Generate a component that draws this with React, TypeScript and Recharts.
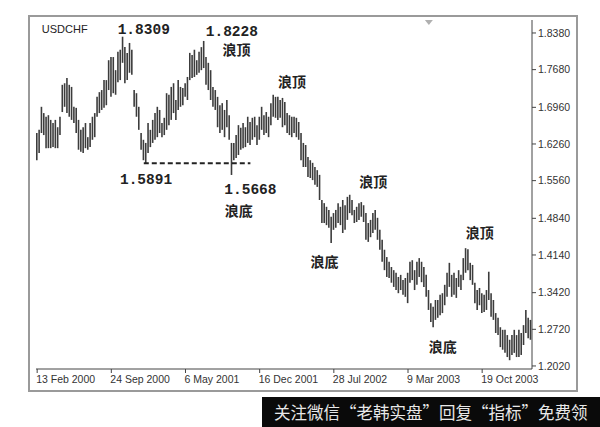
import React from 'react';
import { ComposedChart, Bar, XAxis, YAxis, ReferenceDot, ReferenceLine } from 'recharts';

// Weekly USDCHF bars (high / low)
const highs = [
  1.647, 1.653, 1.697, 1.685, 1.678, 1.681, 1.672, 1.666, 1.672, 1.658,
  1.678, 1.739, 1.742, 1.752, 1.739, 1.735, 1.697, 1.695, 1.672, 1.653,
  1.658, 1.666, 1.639, 1.666, 1.678, 1.685, 1.716, 1.725, 1.729, 1.748,
  1.748, 1.786, 1.792, 1.792, 1.767, 1.802, 1.806, 1.8309, 1.811, 1.800,
  1.819, 1.806, 1.729, 1.723, 1.697, 1.647, 1.634, 1.628, 1.666, 1.653,
  1.672, 1.685, 1.697, 1.691, 1.666, 1.676, 1.723, 1.720, 1.735, 1.742,
  1.710, 1.748, 1.735, 1.733, 1.742, 1.754, 1.800, 1.796, 1.806, 1.786,
  1.802, 1.811, 1.8228, 1.792, 1.781, 1.767, 1.735, 1.729, 1.716, 1.700,
  1.704, 1.691, 1.710, 1.681, 1.628, 1.628, 1.643, 1.662, 1.657, 1.666,
  1.658, 1.678, 1.668, 1.676, 1.678, 1.662, 1.678, 1.697, 1.681, 1.687,
  1.678, 1.704, 1.720, 1.716, 1.716, 1.710, 1.714, 1.706, 1.685, 1.681,
  1.678, 1.678, 1.676, 1.668, 1.647, 1.628, 1.624, 1.601, 1.595, 1.590,
  1.582, 1.576, 1.567, 1.519, 1.513, 1.506, 1.500, 1.487, 1.494, 1.500,
  1.513, 1.506, 1.519, 1.509, 1.525, 1.529, 1.519, 1.500, 1.506, 1.513,
  1.515, 1.509, 1.494, 1.475, 1.481, 1.494, 1.500, 1.485, 1.462, 1.443,
  1.424, 1.410, 1.401, 1.391, 1.385, 1.380, 1.372, 1.376, 1.366, 1.370,
  1.380, 1.401, 1.404, 1.385, 1.401, 1.408, 1.401, 1.391, 1.376, 1.347,
  1.322, 1.315, 1.328, 1.328, 1.338, 1.341, 1.357, 1.380, 1.399, 1.376,
  1.380, 1.370, 1.385, 1.376, 1.408, 1.427, 1.425, 1.399, 1.395, 1.361,
  1.347, 1.351, 1.341, 1.338, 1.347, 1.382, 1.341, 1.328, 1.303, 1.294,
  1.276, 1.271, 1.271, 1.261, 1.252, 1.261, 1.271, 1.261, 1.271, 1.265,
  1.280, 1.309, 1.294, 1.290,
];

const lows = [
  1.595, 1.609, 1.647, 1.643, 1.618, 1.618, 1.618, 1.620, 1.618, 1.618,
  1.643, 1.687, 1.697, 1.685, 1.678, 1.672, 1.666, 1.647, 1.615, 1.611,
  1.609, 1.618, 1.615, 1.620, 1.634, 1.639, 1.678, 1.685, 1.691, 1.695,
  1.700, 1.729, 1.716, 1.723, 1.720, 1.744, 1.748, 1.781, 1.742, 1.748,
  1.762, 1.758, 1.697, 1.678, 1.653, 1.615, 1.595, 1.5891, 1.609, 1.620,
  1.628, 1.634, 1.639, 1.647, 1.639, 1.643, 1.653, 1.662, 1.672, 1.685,
  1.672, 1.691, 1.697, 1.700, 1.716, 1.710, 1.748, 1.752, 1.754, 1.758,
  1.762, 1.767, 1.771, 1.739, 1.729, 1.710, 1.697, 1.691, 1.658, 1.647,
  1.653, 1.639, 1.658, 1.634, 1.5668, 1.595, 1.599, 1.605, 1.615, 1.618,
  1.620, 1.628, 1.624, 1.634, 1.639, 1.624, 1.634, 1.653, 1.643, 1.647,
  1.639, 1.662, 1.678, 1.676, 1.672, 1.676, 1.658, 1.662, 1.647, 1.643,
  1.639, 1.647, 1.639, 1.634, 1.595, 1.582, 1.582, 1.563, 1.561, 1.557,
  1.548, 1.544, 1.519, 1.475, 1.475, 1.471, 1.466, 1.437, 1.462, 1.466,
  1.475, 1.471, 1.456, 1.462, 1.481, 1.494, 1.490, 1.475, 1.477, 1.481,
  1.487, 1.477, 1.443, 1.439, 1.448, 1.456, 1.462, 1.443, 1.424, 1.401,
  1.385, 1.372, 1.370, 1.361, 1.353, 1.347, 1.341, 1.347, 1.338, 1.334,
  1.322, 1.361, 1.366, 1.347, 1.357, 1.372, 1.362, 1.353, 1.334, 1.309,
  1.286, 1.276, 1.290, 1.294, 1.299, 1.303, 1.318, 1.334, 1.353, 1.334,
  1.338, 1.332, 1.353, 1.347, 1.366, 1.380, 1.385, 1.366, 1.357, 1.322,
  1.309, 1.318, 1.303, 1.305, 1.309, 1.328, 1.296, 1.290, 1.265, 1.261,
  1.238, 1.233, 1.227, 1.219, 1.213, 1.223, 1.227, 1.219, 1.219, 1.223,
  1.242, 1.265, 1.255, 1.252,
];

const tickLabels = ['13 Feb 2000', '24 Sep 2000', '6 May 2001', '16 Dec 2001', '28 Jul 2002', '9 Mar 2003', '19 Oct 2003'];
const yTicks = [1.202, 1.272, 1.342, 1.414, 1.484, 1.556, 1.626, 1.696, 1.768, 1.838];
const yDomain: [number, number] = [1.1962, 1.8628];

// text annotations: bar index, price, text
const annotations = [
  { i: 46, p: 1.8437, text: '1.8309', kind: 'num' },
  { i: 84, p: 1.8399, text: '1.8228', kind: 'num' },
  { i: 86, p: 1.8074, text: '浪顶', kind: 'cn' },
  { i: 110, p: 1.7463, text: '浪顶', kind: 'cn' },
  { i: 47, p: 1.557, text: '1.5891', kind: 'num' },
  { i: 92, p: 1.5381, text: '1.5668', kind: 'num' },
  { i: 87, p: 1.5, text: '浪底', kind: 'cn' },
  { i: 124, p: 1.4025, text: '浪底', kind: 'cn' },
  { i: 145, p: 1.5553, text: '浪顶', kind: 'cn' },
  { i: 191, p: 1.4579, text: '浪顶', kind: 'cn' },
  { i: 175, p: 1.2401, text: '浪底', kind: 'cn' },
];

const MONTHS = ['Jan', 'Feb', 'Mar', 'Apr', 'May', 'Jun', 'Jul', 'Aug', 'Sep', 'Oct', 'Nov', 'Dec'];
const START = Date.UTC(2000, 1, 13);
function weekLabel(i: number) {
  const d = new Date(START + i * 7 * 86400000);
  return `${d.getUTCDate()} ${MONTHS[d.getUTCMonth()]} ${d.getUTCFullYear()}`;
}
const categories = highs.map((_, i) => weekLabel(i));
const data = categories.map((date, i) => ({ date, range: [lows[i], highs[i]] }));

const SANS = '"Liberation Sans", Arial, sans-serif';

const XTick = (props: any) => {
  const { x, y, payload } = props;
  return (
    <text x={x - 1} y={y} dy="0.71em" textAnchor="start" fontSize={10.5} fill="#333" fontFamily={SANS}>
      {payload.value}
    </text>
  );
};

const YTick = (props: any) => {
  const { x, y, payload } = props;
  return (
    <text x={x} y={y} dy="0.35em" textAnchor="start" fontSize={10.5} fill="#333" fontFamily={SANS}>
      {Number(payload.value).toFixed(4)}
    </text>
  );
};

export default function App() {
  return (
    <div style={{ position: 'relative', width: 584, height: 419 }}>
      <div
        style={{
          position: 'absolute',
          left: 20,
          top: 7,
          width: 550,
          height: 377,
          border: '2px solid #9a9a9a',
          boxSizing: 'border-box',
        }}
      />
      <div style={{ position: 'absolute', left: 0, top: 0 }}>
        <ComposedChart width={584} height={419} data={data} margin={{ top: 12, right: 0, bottom: 38, left: 28 }}>
          <XAxis
            dataKey="date"
            ticks={tickLabels}
            interval={0}
            tick={<XTick />}
            tickSize={4}
            tickMargin={3}
            height={20}
            axisLine={{ stroke: '#444' }}
            tickLine={{ stroke: '#444' }}
          />
          <XAxis
            xAxisId="top"
            dataKey="date"
            orientation="top"
            height={0}
            tick={false}
            tickLine={false}
            axisLine={{ stroke: '#444' }}
          />
          <YAxis
            yAxisId="right"
            orientation="right"
            domain={yDomain}
            allowDataOverflow
            ticks={yTicks}
            interval={0}
            width={60}
            tick={<YTick />}
            tickSize={4}
            tickMargin={2}
            axisLine={{ stroke: '#444' }}
            tickLine={{ stroke: '#444' }}
          />
          <YAxis
            yAxisId="left"
            orientation="left"
            domain={yDomain}
            allowDataOverflow
            width={0}
            tick={false}
            tickLine={false}
            axisLine={{ stroke: '#444' }}
          />
          <Bar dataKey="range" yAxisId="right" fill="#3c3c3c" barSize={1.6} isAnimationActive={false} />
          <ReferenceLine
            yAxisId="right"
            segment={[
              { x: categories[46], y: 1.5891 },
              { x: categories[92], y: 1.5891 },
            ]}
            stroke="#222"
            strokeWidth={2}
            strokeDasharray="5 3"
          />
          <ReferenceDot
            yAxisId="right"
            x={categories[169]}
            y={yDomain[1]}
            ifOverflow="visible"
            shape={(p: any) => (
              <polygon points={`${p.cx - 4},${p.cy} ${p.cx + 4},${p.cy} ${p.cx},${p.cy + 5}`} fill="#b0b0b0" />
            )}
          />
          <ReferenceDot
            yAxisId="right"
            x={categories[2]}
            y={1.8456}
            ifOverflow="visible"
            shape={(p: any) => (
              <text x={p.cx} y={p.cy} dominantBaseline="central" textAnchor="start" fontSize={11} fill="#222" fontFamily={SANS}>
                USDCHF
              </text>
            )}
          />
          {annotations.map((a, k) => (
            <ReferenceDot
              key={k}
              yAxisId="right"
              x={categories[a.i]}
              y={a.p}
              ifOverflow="visible"
              shape={(p: any) => (
                <text
                  x={p.cx}
                  y={p.cy}
                  dominantBaseline="central"
                  textAnchor="middle"
                  fontSize={a.kind === 'num' ? 14.5 : 14}
                  fontWeight={700}
                  fill="#222"
                  fontFamily={a.kind === 'num' ? '"Liberation Mono", "DejaVu Sans Mono", monospace' : '"Noto Sans CJK SC", sans-serif'}
                >
                  {a.text}
                </text>
              )}
            />
          ))}
        </ComposedChart>
      </div>
      <div
        style={{
          position: 'fixed',
          left: 262,
          top: 397,
          width: 338,
          height: 30,
          background: '#0a0a0a',
          color: '#e8e8e8',
          fontFamily: '"Noto Sans CJK SC", sans-serif',
          fontSize: 16.5,
          lineHeight: '30px',
          paddingLeft: 12,
          boxSizing: 'border-box',
          whiteSpace: 'nowrap',
          overflow: 'hidden',
        }}
      >
        关注微信“老韩实盘”回复“指标”免费领
      </div>
    </div>
  );
}
